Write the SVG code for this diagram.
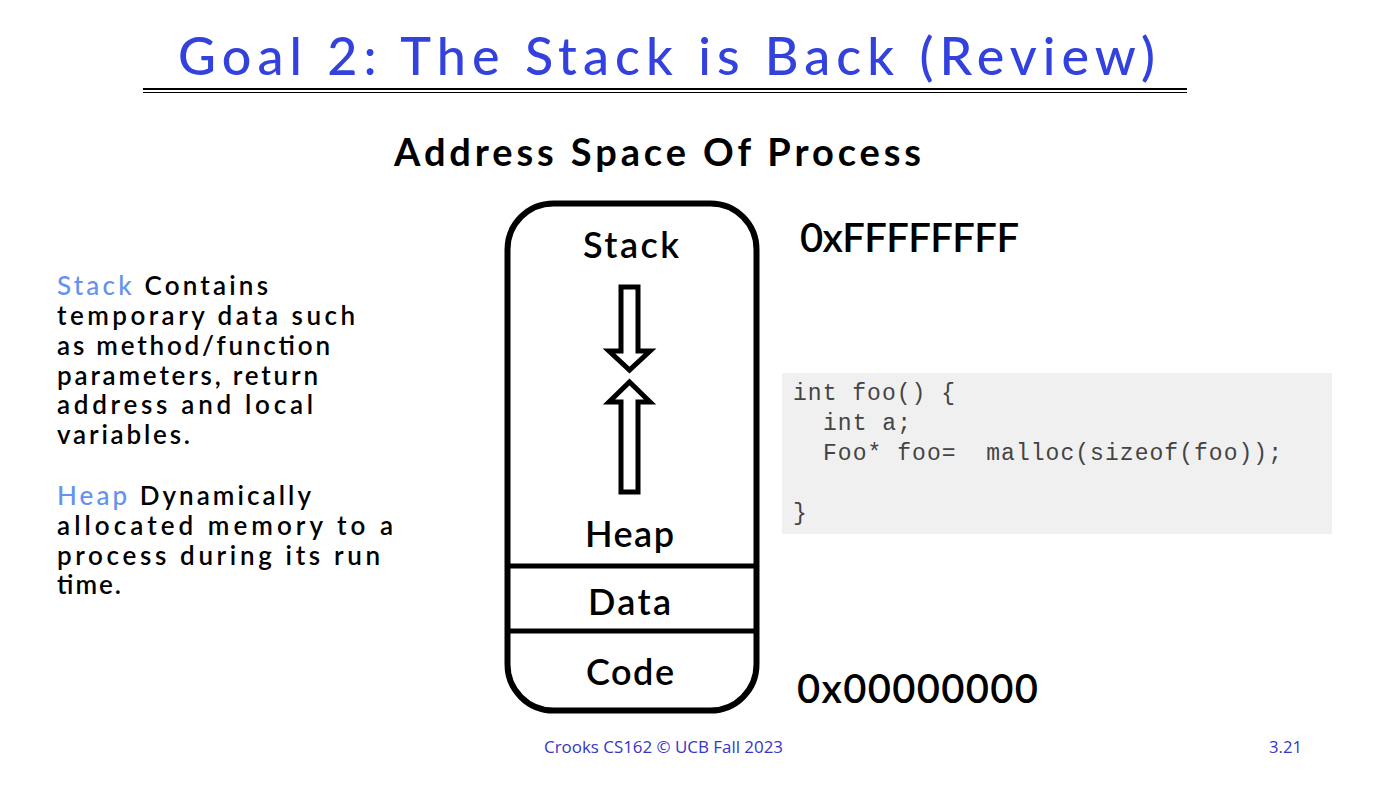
<svg xmlns="http://www.w3.org/2000/svg" width="1376" height="798" viewBox="0 0 1376 798">
<style>
.t{font-family:Lato,"Noto Sans","DejaVu Sans",sans-serif;}
.title{font-size:52px;fill:#3341dd;font-weight:500;}
.hd{font-size:38px;font-weight:bold;fill:#000;}
.seg{font-size:36px;fill:#000;font-weight:600;}
.body{font-size:26px;fill:#000;font-weight:600;}
.hl{fill:#6592ee;font-weight:500;}
.addr{font-size:40px;fill:#000;font-weight:600;}
.code{font-family:"Liberation Mono","Courier New",monospace;font-size:23px;fill:#444;}
.foot{font-family:"Open Sans","Liberation Sans",sans-serif;font-size:16px;fill:#3535c8;}
.arrow{fill:#fff;stroke:#000;stroke-width:5;stroke-linejoin:miter;}
</style>
<rect width="1376" height="798" fill="#fff"/>
<g id="title">
<text class="t title" x="178" y="75" textLength="977" lengthAdjust="spacing">Goal 2: The Stack is Back (Review)</text>
<line x1="143" y1="89" x2="1187" y2="89" stroke="#000" stroke-width="2"/>
<line x1="143" y1="92.5" x2="1187" y2="92.5" stroke="#000" stroke-width="1"/>
</g>
<g id="heading">
<text class="t hd" x="394" y="166" textLength="527" lengthAdjust="spacing">Address Space Of Process</text>
</g>
<g id="description">
<text class="t body" x="57" y="295" textLength="211" lengthAdjust="spacing"><tspan class="hl">Stack</tspan>  <tspan>Contains</tspan></text>
<text class="t body" x="57" y="325" textLength="298" lengthAdjust="spacing">temporary data such</text>
<text class="t body" x="57" y="355" textLength="273" lengthAdjust="spacing">as method/function</text>
<text class="t body" x="57" y="385" textLength="261" lengthAdjust="spacing">parameters, return</text>
<text class="t body" x="57" y="414" textLength="256" lengthAdjust="spacing">address and local</text>
<text class="t body" x="57" y="444" textLength="133" lengthAdjust="spacing">variables.</text>
<text class="t body" x="57" y="505" textLength="254" lengthAdjust="spacing"><tspan class="hl">Heap</tspan>  <tspan>Dynamically</tspan></text>
<text class="t body" x="57" y="535" textLength="336" lengthAdjust="spacing">allocated memory to a</text>
<text class="t body" x="57" y="565" textLength="323" lengthAdjust="spacing">process during its run</text>
<text class="t body" x="57" y="594" textLength="64" lengthAdjust="spacing">time.</text>
</g>
<g id="address-space">
<rect x="507.5" y="203.5" width="249" height="507" rx="46" ry="46" fill="#fff" stroke="#000" stroke-width="6"/>
<line x1="507" y1="566" x2="757" y2="566" stroke="#000" stroke-width="5"/>
<line x1="507" y1="631" x2="757" y2="631" stroke="#000" stroke-width="5"/>
</g>
<g id="stack">
<text class="t seg" x="583" y="258" textLength="96" lengthAdjust="spacing">Stack</text>
</g>
<g id="heap">
<text class="t seg" x="585" y="547" textLength="89" lengthAdjust="spacing">Heap</text>
</g>
<g id="data">
<text class="t seg" x="588" y="615" textLength="83" lengthAdjust="spacing">Data</text>
</g>
<g id="code">
<text class="t seg" x="586" y="685" textLength="88" lengthAdjust="spacing">Code</text>
</g>
<g id="connectors">
<path class="arrow" d="M621,287 H638 V351 H650 L629.5,370 L609,351 H621 Z"/>
<path class="arrow" d="M621,492 H638 V402 H650 L629.5,382 L609,402 H621 Z"/>
</g>
<g id="addr-high">
<text class="t addr" x="800" y="252" textLength="219" lengthAdjust="spacing">0xFFFFFFFF</text>
</g>
<g id="addr-low">
<text class="t addr" x="797" y="703" font-weight="bold" textLength="241" lengthAdjust="spacing">0x00000000</text>
</g>
<g id="code-sample">
<rect x="782" y="373" width="550" height="161" fill="#f0f0f0"/>
<text class="code" x="793" y="400" xml:space="preserve" textLength="162" lengthAdjust="spacing">int foo() {</text>
<text class="code" x="823" y="430" textLength="88" lengthAdjust="spacing">int a;</text>
<text class="code" x="823" y="460" xml:space="preserve" textLength="459" lengthAdjust="spacing">Foo* foo=  malloc(sizeof(foo));</text>
<text class="code" x="793" y="520">}</text>
</g>
<g id="footer">
<text class="foot" x="544" y="753" textLength="239" lengthAdjust="spacingAndGlyphs">Crooks CS162 © UCB Fall 2023</text>
<text class="foot" x="1269" y="753" textLength="33" lengthAdjust="spacingAndGlyphs">3.21</text>
</g>
</svg>
